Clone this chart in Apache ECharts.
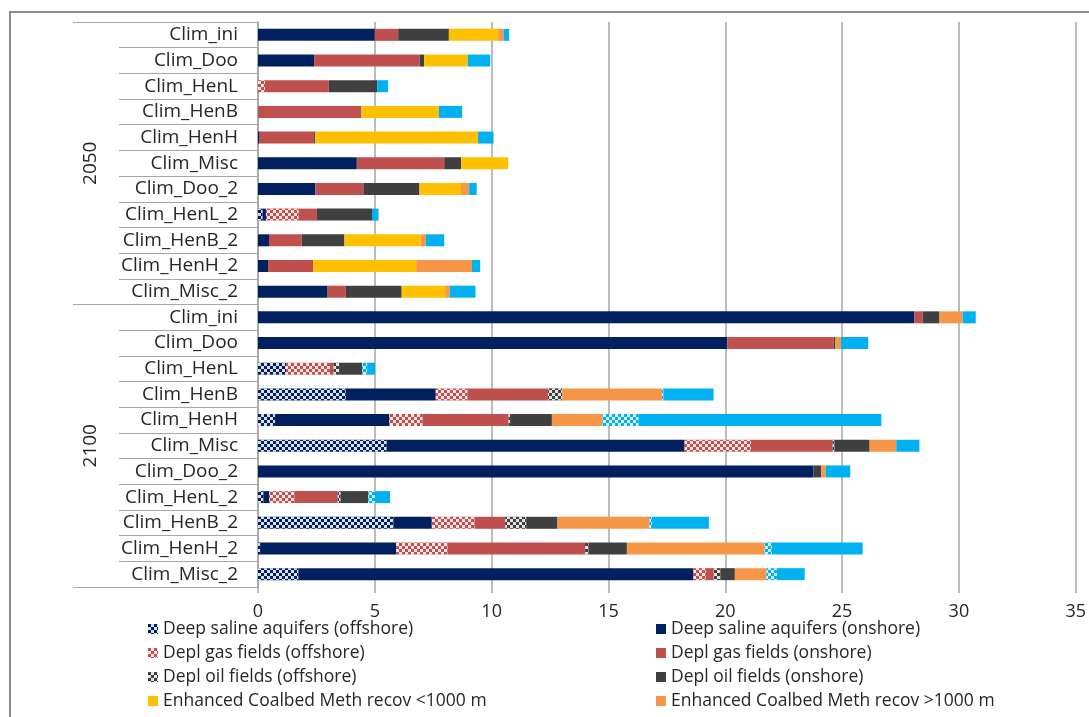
<!DOCTYPE html>
<html>
<head>
<meta charset="utf-8">
<script src="https://cdn.jsdelivr.net/npm/echarts@6/dist/echarts.min.js"></script>
<style>
html,body{margin:0;padding:0;background:#fff;}
#chart{width:1089px;height:717px;}
</style>
</head>
<body>
<div id="chart"></div>
<script>
// ---- data ----
const years = ['2050', '2100'];
const scenarios = ['Clim_ini','Clim_Doo','Clim_HenL','Clim_HenB','Clim_HenH','Clim_Misc','Clim_Doo_2','Clim_HenL_2','Clim_HenB_2','Clim_HenH_2','Clim_Misc_2'];
const xTicks = [0, 5, 10, 15, 20, 25, 30, 35];

const dsaOff   = [0,0,0,0,0,0,0,0.2,0,0,0,            0,0,1.2,3.76,0.73,5.51,0,0.23,5.8,0.09,1.73];
const dsaOn    = [5.0,2.4,0,0,0.07,4.23,2.46,0.14,0.47,0.43,2.98,   28.1,20.09,0,3.85,4.89,12.75,23.78,0.24,1.64,5.82,16.91];
const gasOff   = [0,0,0.3,0,0,0,0,1.4,0,0,0,          0,0,1.88,1.36,1.43,2.84,0,1.09,1.83,2.21,0.53];
const gasOn    = [1.0,4.52,2.73,4.38,2.33,3.74,2.05,0.78,1.40,1.93,0.78,   0.35,4.55,0.15,3.44,3.67,3.5,0,1.85,1.31,5.88,0.33];
const oilOff   = [0,0,0,0,0,0,0,0,0,0,0,              0,0,0.24,0.61,0.07,0.08,0,0.13,0.9,0.15,0.29];
const oilOn    = [2.17,0.19,2.07,0.04,0.05,0.72,2.40,2.36,1.83,0,2.39,   0.72,0.06,0.99,0,1.79,1.5,0.33,1.17,1.34,1.64,0.62];
const ecbmLow  = [2.11,1.87,0,3.32,6.97,2.02,1.78,0,3.27,4.41,1.86,      0,0,0,0,0,0,0,0,0,0,0];
const ecbmHigh = [0.24,0,0,0,0,0,0.35,0,0.21,2.39,0.20,                   0.99,0.25,0,4.27,2.17,1.14,0.19,0,3.93,5.89,1.35];
const eorOff   = [0,0,0,0,0,0,0,0,0,0,0,              0,0,0.21,0.07,1.54,0,0,0.3,0.11,0.32,0.45];
const eorOn    = [0.23,0.96,0.47,1.0,0.66,0,0.32,0.28,0.79,0.35,1.10,   0.56,1.17,0.34,2.14,10.39,0.99,1.05,0.64,2.44,3.88,1.19];

const seriesNames = [
  'Deep saline aquifers (offshore)', 'Deep saline aquifers (onshore)',
  'Depl gas fields (offshore)', 'Depl gas fields (onshore)',
  'Depl oil fields (offshore)', 'Depl oil fields (onshore)',
  'Enhanced Coalbed Meth recov <1000 m', 'Enhanced Coalbed Meth recov >1000 m',
  'Enhanced Oil Recovery (offshore)', 'Enhanced Oil Recovery (onshore)'
];
const seriesValues = [dsaOff, dsaOn, gasOff, gasOn, oilOff, oilOn, ecbmLow, ecbmHigh, eorOff, eorOn];
const seriesColors = ['#002060','#002060','#C0504D','#C0504D','#404040','#404040','#FFC000','#F79646','#00B0F0','#00B0F0'];
const patterned    = [true,false,true,false,true,false,false,false,true,false];

// ---- build ----
const cats = [];
years.forEach(y => scenarios.forEach(s => cats.push(y + '|' + s)));

const FONT = 'Open Sans';
const decal = {
  symbol: 'rect', symbolSize: 1, color: 'rgba(255,255,255,0.85)',
  dashArrayX: [[3, 3], [0, 3, 3, 0]], dashArrayY: [3, 0], rotation: 0
};

const series = seriesNames.map((n, i) => ({
  name: n, type: 'bar', stack: 'all', barWidth: 12,
  yAxisIndex: 0,
  itemStyle: Object.assign({ color: seriesColors[i] }, patterned[i] ? { decal: decal } : {}),
  data: seriesValues[i]
}));

const legendText = { fontSize: 17.5, color: '#262626', lineHeight: 20, fontFamily: FONT };

const chart = echarts.init(document.getElementById('chart'), null, { renderer: 'canvas' });
chart.setOption({
  animation: false,
  backgroundColor: '#fff',
  textStyle: { fontFamily: FONT },
  grid: { left: 258, right: 11, top: 22, bottom: 130, containLabel: false },
  xAxis: {
    type: 'value', min: xTicks[0], max: xTicks[xTicks.length - 1], interval: 5,
    axisLine: { show: false },
    axisTick: { show: true, length: 6, lineStyle: { color: '#a6a6a6', width: 1.5 } },
    axisLabel: { fontSize: 18, color: '#262626', margin: 16, fontFamily: FONT },
    splitLine: { show: true, lineStyle: { color: '#a6a6a6', width: 1.5 } }
  },
  yAxis: [
    {
      type: 'category', inverse: true, data: cats, position: 'left',
      axisLine: { show: true, lineStyle: { color: '#a6a6a6', width: 1.5 } },
      axisTick: { show: true, length: 139, interval: 0, lineStyle: { color: '#a6a6a6', width: 1.2 } },
      axisLabel: { interval: 0, fontSize: 19, color: '#262626', margin: 20, fontFamily: FONT,
                   formatter: v => v.split('|')[1] }
    },
    {
      type: 'category', inverse: true, data: years, position: 'left', gridIndex: 0,
      axisLine: { show: false },
      axisTick: { show: true, length: 185, interval: 0, lineStyle: { color: '#a6a6a6', width: 1.2 } },
      axisLabel: { interval: 0, rotate: 90, fontSize: 19, color: '#262626', margin: 158, fontFamily: FONT }
    }
  ],
  legend: [
    {
      orient: 'vertical', left: 143, top: 614, height: 120, itemWidth: 10, itemHeight: 10, itemGap: 4,
      data: [seriesNames[0], seriesNames[2], seriesNames[4], seriesNames[6]],
      textStyle: legendText, icon: 'rect', selectedMode: false
    },
    {
      orient: 'vertical', left: 651, top: 614, height: 120, itemWidth: 10, itemHeight: 10, itemGap: 4,
      data: [seriesNames[1], seriesNames[3], seriesNames[5], seriesNames[7]],
      textStyle: legendText, icon: 'rect', selectedMode: false
    }
  ],
  graphic: [
    { type: 'rect', silent: true, z: -1, shape: { x: 10, y: 12, width: 1100, height: 720 },
      style: { fill: 'none', stroke: '#8c8c8c', lineWidth: 2 } }
  ],
  series: series
});
</script>
</body>
</html>
